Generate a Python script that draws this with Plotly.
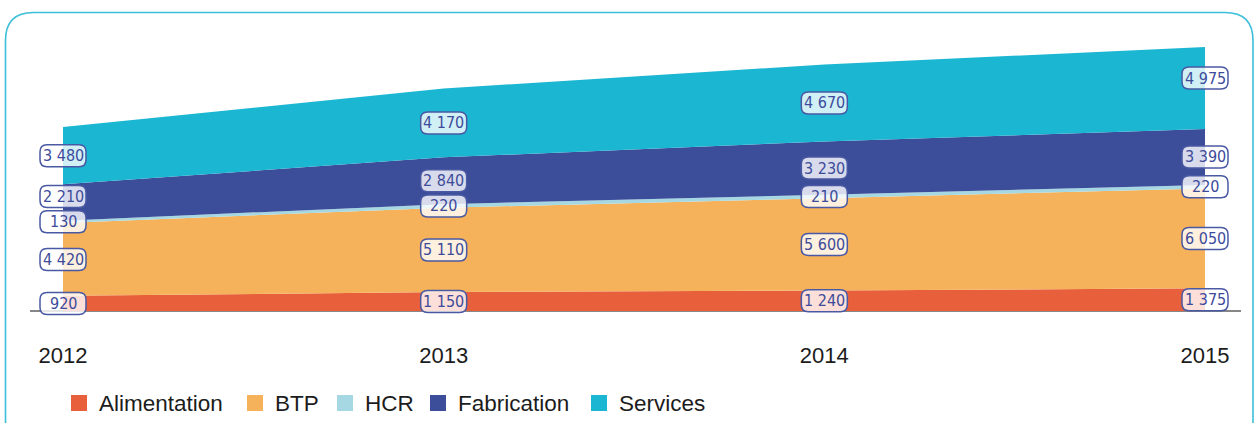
import plotly.graph_objects as go

# ---------------- data ----------------
years = [2012, 2013, 2014, 2015]
year_labels = ["2012", "2013", "2014", "2015"]
series_names = ["Alimentation", "BTP", "HCR", "Fabrication", "Services"]
alimentation = [920, 1150, 1240, 1375]
btp = [4420, 5110, 5600, 6050]
hcr = [130, 220, 210, 220]
fabrication = [2210, 2840, 3230, 3390]
services = [3480, 4170, 4670, 4975]

series_values = [alimentation, btp, hcr, fabrication, services]

# ---------------- style ----------------
colors = ["#e85f3c", "#f6b25b", "#a5d8e3", "#3c4d99", "#1bb6d2"]
label_color = "#3d4b9b"
text_dark = "#1c1c1c"
frame_color = "#3dbfd9"
narrow_font = "DejaVu Sans Condensed, sans-serif"
main_font = "Liberation Sans, Arial, sans-serif"

W, H = 1255, 423
X_LEFT_PX, X_RIGHT_PX = 63, 1205     # pixel position of first / last year
BASE_PX = 311                        # pixel row of value 0
PX_PER_UNIT = 0.01649                # vertical scale

k = (X_RIGHT_PX - X_LEFT_PX) / (years[-1] - years[0])
x_min = years[0] - X_LEFT_PX / k
x_max = x_min + W / k
y_max = BASE_PX / PX_PER_UNIT
y_min = -(H - BASE_PX) / PX_PER_UNIT


def px_to_x(px):
    return x_min + px / k


# small vertical nudges of some value labels (pixels, negative = up)
label_nudge = {(0, 3): -6, (3, 4): -10}

fig = go.Figure()
for name, vals, col in zip(series_names, series_values, colors):
    fig.add_trace(go.Scatter(
        x=years, y=vals, name=name, stackgroup="one", mode="lines",
        line=dict(width=0, color=col), fillcolor=col, showlegend=False,
        hoverinfo="x+y+name",
    ))

shapes = []
annotations = []

# axis baseline (under the areas)
shapes.append(dict(type="line", xref="x", yref="y", layer="below",
                   x0=px_to_x(30), x1=px_to_x(1241), y0=0, y1=0,
                   line=dict(color="#111111", width=1.2)))

# value labels in rounded boxes
bw, bh, r = 23, 11, 7
box_path = (f"M {-bw + r},{-bh} L {bw - r},{-bh} Q {bw},{-bh} {bw},{-bh + r} "
            f"L {bw},{bh - r} Q {bw},{bh} {bw - r},{bh} L {-bw + r},{bh} "
            f"Q {-bw},{bh} {-bw},{bh - r} L {-bw},{-bh + r} Q {-bw},{-bh} {-bw + r},{-bh} Z")


def fmt(v):
    return f"{v:,}".replace(",", " ")


for i, yr in enumerate(years):
    cum = 0
    for j, vals in enumerate(series_values):
        v = vals[i]
        mid = cum + v / 2
        cum += v
        nudge = label_nudge.get((i, j), 0)
        ya = mid - nudge / PX_PER_UNIT
        shapes.append(dict(type="path", xref="x", yref="y", layer="above",
                           xsizemode="pixel", ysizemode="pixel",
                           xanchor=yr, yanchor=ya, path=box_path,
                           fillcolor="rgba(255,255,255,0.80)",
                           line=dict(color="#4a59a3", width=1.5)))
        annotations.append(dict(x=yr, y=ya, xref="x", yref="y", text=fmt(v),
                                showarrow=False, xanchor="center", yanchor="middle",
                                font=dict(family=narrow_font, size=16, color=label_color)))

# legend (manual)
legend_sq_px = [71, 247, 337, 430, 591]
legend_y_px = 403
for name, col, sx in zip(series_names, colors, legend_sq_px):
    shapes.append(dict(type="rect", xref="paper", yref="paper",
                       x0=sx / W, x1=(sx + 16) / W,
                       y0=1 - (legend_y_px + 8) / H, y1=1 - (legend_y_px - 8) / H,
                       fillcolor=col, line=dict(width=0)))
    annotations.append(dict(x=(sx + 26) / W, y=1 - legend_y_px / H, xref="paper", yref="paper",
                            text=name, showarrow=False, xanchor="left", yanchor="middle",
                            font=dict(family=main_font, size=22.5, color=text_dark)))

# rounded frame
fl, ft, fr, fb, fr_r = 5.5, 12.5, 1253, 450, 28


def P(px, py):
    return f"{px / W},{1 - py / H}"


frame_path = (f"M {P(fl + fr_r, ft)} L {P(fr - fr_r, ft)} Q {P(fr, ft)} {P(fr, ft + fr_r)} "
              f"L {P(fr, fb - fr_r)} Q {P(fr, fb)} {P(fr - fr_r, fb)} "
              f"L {P(fl + fr_r, fb)} Q {P(fl, fb)} {P(fl, fb - fr_r)} "
              f"L {P(fl, ft + fr_r)} Q {P(fl, ft)} {P(fl + fr_r, ft)} Z")
shapes.append(dict(type="path", xref="paper", yref="paper", path=frame_path,
                   line=dict(color=frame_color, width=1.6), layer="below"))

fig.update_layout(
    width=W, height=H,
    margin=dict(l=0, r=0, t=0, b=0),
    paper_bgcolor="white", plot_bgcolor="rgba(0,0,0,0)",
    showlegend=False,
    shapes=shapes, annotations=annotations,
    xaxis=dict(range=[x_min, x_max], tickvals=years, ticktext=year_labels,
               showgrid=False, zeroline=False, showline=False, ticks="",
               anchor="free", position=(H - BASE_PX) / H,
               ticklabelstandoff=29,
               tickfont=dict(family=main_font, size=22, color=text_dark)),
    yaxis=dict(range=[y_min, y_max], visible=False, showgrid=False, zeroline=False),
)

fig.write_html("out.html", config={"displayModeBar": False},
               post_script="document.body.style.margin='0';")
